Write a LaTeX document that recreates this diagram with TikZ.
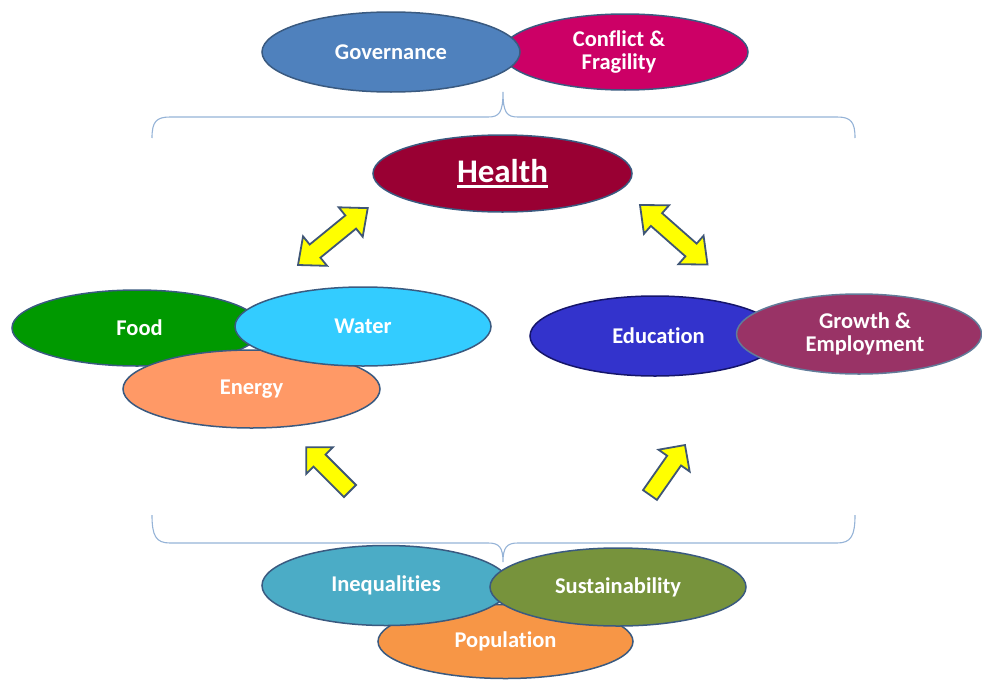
\documentclass[tikz,border=0pt]{standalone}
\usepackage{fontspec}
\setmainfont{Carlito}[Ligatures=NoCommon]
\usetikzlibrary{shapes.geometric}

\definecolor{edgeblue}{HTML}{3A5A80}
\definecolor{edunavy}{HTML}{15156A}
\definecolor{braceblue}{HTML}{95B3D7}
\definecolor{arrowyellow}{HTML}{FFFF00}
\definecolor{arrowedge}{HTML}{3F5676}
\definecolor{govblue}{HTML}{4F81BD}
\definecolor{conflictpink}{HTML}{CC0066}
\definecolor{healthred}{HTML}{990033}
\definecolor{foodgreen}{HTML}{009900}
\definecolor{watercyan}{HTML}{33CCFF}
\definecolor{energysalmon}{HTML}{FF9966}
\definecolor{edublue}{HTML}{3333CC}
\definecolor{growthplum}{HTML}{993366}
\definecolor{ineqteal}{HTML}{4BACC6}
\definecolor{sustolive}{HTML}{77933C}
\definecolor{poporange}{HTML}{F79646}

% thick underline scaled to the heading text
\newcommand\healthmark[1]{\setbox0\hbox{#1}\makebox[0pt][l]{\copy0}\rule[-5pt]{\wd0}{2.6pt}}

\begin{document}
\begin{tikzpicture}[x=1pt,y=-1pt,
  blob/.style={ellipse, draw=edgeblue, line width=1.5pt, inner sep=0pt,
    text=white, align=center, font=\fontsize{22.5}{23}\selectfont\bfseries},
  bracket/.style={draw=braceblue, line width=1.1pt},
  blockarrow/.style={draw=arrowedge, fill=arrowyellow, line width=1.8pt, line join=miter}]

\useasboundingbox (0,0) rectangle (982,680);

% braces grouping the cross-cutting themes
\draw[bracket] (152,138) .. controls (152,122) and (156,117) .. (170,117)
  -- (488,117) .. controls (499,117) and (503,113) .. (503,92)
  .. controls (503,113) and (507,117) .. (518,117)
  -- (837,117) .. controls (851,117) and (855,122) .. (855,138);
\draw[bracket] (152,515) .. controls (152,536) and (156,543) .. (170,543)
  -- (488,543) .. controls (499,543) and (503,547) .. (503,562)
  .. controls (503,547) and (507,543) .. (518,543)
  -- (837,543) .. controls (851,543) and (855,536) .. (855,515);

% top pair
\node[blob, fill=conflictpink, minimum width=246pt, minimum height=76pt] (conflict) at (625,52) {\hspace*{-12pt}Conflict \&\\\hspace*{-12pt}Fragility};
\node[blob, fill=govblue, minimum width=258pt, minimum height=80pt] (gov) at (391,52) {Governance};

% centre
\node[blob, fill=healthred, minimum width=259pt, minimum height=77pt,
  font=\fontsize{33}{36}\selectfont\bfseries] (health) at (502.5,173.5) {\healthmark{Health}};

% left cluster
\node[blob, fill=foodgreen, minimum width=250pt, minimum height=76pt] (food) at (137,328) {\hspace*{5pt}Food};
\node[blob, fill=energysalmon, minimum width=257pt, minimum height=78pt] (energy) at (251.5,389) {Energy};
\node[blob, fill=watercyan, minimum width=256pt, minimum height=79pt] (water) at (363,326.5) {Water};

% right cluster
\node[blob, fill=edublue, draw=edunavy, minimum width=250pt, minimum height=80pt] (edu) at (655,336) {\hspace*{7pt}Education};
\node[blob, fill=growthplum, draw=edgeblue!80!white, minimum width=245pt, minimum height=80pt] (growth) at (859,334) {\hspace*{12pt}Growth \&\\\hspace*{12pt}Employment};

% bottom cluster
\node[blob, fill=poporange, minimum width=255pt, minimum height=74pt] (pop) at (505.5,641.5) {Population};
\node[blob, fill=ineqteal, minimum width=248pt, minimum height=80pt] (ineq) at (386,585.5) {Inequalities};
\node[blob, fill=sustolive, minimum width=256pt, minimum height=78pt] (sust) at (618,587) {Sustainability};

% two-way block arrows around the centre
\coordinate (hl) at (298,265);
\coordinate (hr) at (640,205);
\draw[blockarrow, shift={(hl)}, rotate=39.2]
  (0,0) -- (22,19) -- (22,8.5) -- (68,8.5) -- (68,19) -- (90,0)
  -- (68,-19) -- (68,-8.5) -- (22,-8.5) -- (22,-19) -- cycle;
\draw[blockarrow, shift={(hr)}, rotate=-41.4]
  (0,0) -- (22,19) -- (22,8.5) -- (68,8.5) -- (68,19) -- (90,0)
  -- (68,-19) -- (68,-8.5) -- (22,-8.5) -- (22,-19) -- cycle;

% one-way block arrows rising from the lower themes
\coordinate (ul) at (350,491);
\coordinate (ur) at (650,495);
\draw[blockarrow, shift={(ul)}, rotate=135]
  (0,8.5) -- (43,8.5) -- (43,19) -- (62,0) -- (43,-19) -- (43,-8.5) -- (0,-8.5) -- cycle;
\draw[blockarrow, shift={(ur)}, rotate=55]
  (0,8.5) -- (42,8.5) -- (42,19) -- (61,0) -- (42,-19) -- (42,-8.5) -- (0,-8.5) -- cycle;

\end{tikzpicture}
\end{document}
